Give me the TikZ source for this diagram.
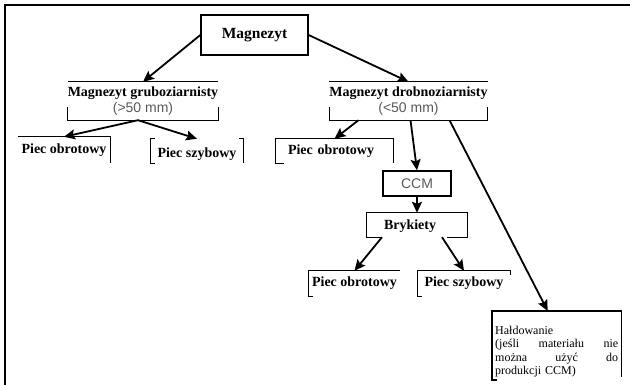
\documentclass[tikz,border=0pt]{standalone}
\usepackage{fontspec}
\setmainfont{Liberation Serif}
\setsansfont{Liberation Sans}
\usepackage{tikz}
\usetikzlibrary{arrows.meta, positioning}

\newcommand{\grain}[1]{{\sffamily\mdseries\color{black!65}#1}}

\begin{document}
\begin{tikzpicture}[
  x=1pt, y=-1pt,
  >={Stealth[length=11pt, width=10pt, inset=2pt]},
  flow/.style={->, line width=1.8pt},
  part/.style={line width=1.3pt},
  lbl/.style={font=\fontsize{14}{16}\selectfont\bfseries, inner sep=0pt},
]
\useasboundingbox (0,0) rectangle (630,385);

% --- page frame ---
\draw[line width=1.8pt] (5,385) -- (5,5) -- (630,5);

% --- raw material ---
\node[lbl, draw, line width=1.3pt, minimum width=107pt, minimum height=40pt,
  font=\fontsize{15.5}{18}\selectfont\bfseries] (mag) at (254.5,35) {Magnezyt};

% --- grain size split ---
\node[lbl, align=center, minimum width=150pt, minimum height=38pt] (grub) at (143,101)
  {Magnezyt gruboziarnisty\\\grain{(>50 mm)}};
\node[lbl, align=center, minimum width=151pt, minimum height=38pt] (drob) at (408.5,101)
  {Magnezyt drobnoziarnisty\\\grain{(<50 mm)}};
\foreach \n in {grub, drob} {
  \draw[part] (\n.north west) -- (\n.north east);
  \draw[part] ([yshift=13pt]\n.south west) -- (\n.south west) -- (\n.south east) -- ([yshift=13pt]\n.south east);
}

% --- coarse grain kilns ---
\node[lbl, minimum width=92pt, minimum height=26pt] (pobL) at (64,150) {Piec obrotowy};
\node[lbl, minimum width=92pt, minimum height=24pt, text height=17pt] (pszL) at (197,151) {Piec szybowy};
\draw[part] (pobL.north west) -- (pobL.north east) -- (pobL.south east);
\draw[part] ([xshift=4pt]pszL.north west) -- (pszL.north west) -- (pszL.south west) -- ([xshift=4pt]pszL.south west);
\draw[part] ([xshift=-4pt]pszL.north east) -- (pszL.north east) -- (pszL.south east);

% --- fine grain route ---
\node[lbl, text width=93pt, inner xsep=12pt, align=left, minimum height=24pt] (pobM) at (334.5,151) {Piec obrotowy};
\draw[part] ([xshift=8pt]pobM.south west) -- (pobM.south west) -- (pobM.north west) -- (pobM.north east) -- (pobM.south east);

\node[lbl, draw, line width=1.3pt, minimum width=68pt, minimum height=25pt,
  font=\fontsize{14}{16}\selectfont\sffamily, text=black!65] (ccm) at (417,183.5) {CCM};

\node[lbl, text width=66pt, inner xsep=17pt, align=left, minimum height=24pt, text height=13pt] (bry) at (417,225) {Brykiety};
\draw[part] ([xshift=15pt]bry.south west) -- (bry.south west) -- (bry.north west) -- (bry.north east) -- (bry.south east) -- ([xshift=-20pt]bry.south east);

\node[lbl, minimum width=91pt, minimum height=25pt] (pobB) at (354.5,283.5) {Piec obrotowy};
\node[lbl, minimum width=92pt, minimum height=25pt] (pszB) at (464,283.5) {Piec szybowy};
\draw[part] ([xshift=4pt]pobB.south west) -- (pobB.south west) -- (pobB.north west) -- (pobB.north east);
\draw[part] ([xshift=4pt]pszB.south west) -- (pszB.south west) -- (pszB.north west) -- (pszB.north east) -- ([yshift=-4pt]pszB.north east);

% --- dumping ---
\node[anchor=north west, text width=123pt, inner xsep=3pt, inner ysep=15pt, align=left,
  font=\fontsize{12}{13.3}\selectfont] (hald) at (492,311)
  {Hałdowanie\\
   \makebox[123pt][s]{(jeśli\hfill materiału\hfill nie}\\
   \makebox[123pt][s]{można\hfill użyć\hfill do}\\
   produkcji CCM)};
\draw[part] ([xshift=5pt, yshift=-69pt]hald.north west) -- ([yshift=-69pt]hald.north west) -- (hald.north west) -- (hald.north east) -- ([yshift=-66pt]hald.north east);

% --- connectors ---
\draw[flow] (mag.west) -- (grub.north);
\draw[flow] (mag.east) -- (drob.north);
\draw[flow] ([xshift=-5pt]grub.south) -- (pobL.north);
\draw[flow] ([xshift=-5pt]grub.south) -- (pszL.north);
\draw[flow] ([xshift=-50pt]drob.south) -- (pobM.north);
\draw[flow] ([xshift=2pt]drob.south) -- (ccm.north);
\draw[flow] ([xshift=41pt]drob.south) -- ([xshift=-9pt]hald.north);
\draw[flow] (ccm.south) -- (bry.north);
\draw[flow] ([xshift=-35pt]bry.south) -- (pobB.north);
\draw[flow] ([xshift=25pt]bry.south) -- (pszB.north);

\end{tikzpicture}
\end{document}
